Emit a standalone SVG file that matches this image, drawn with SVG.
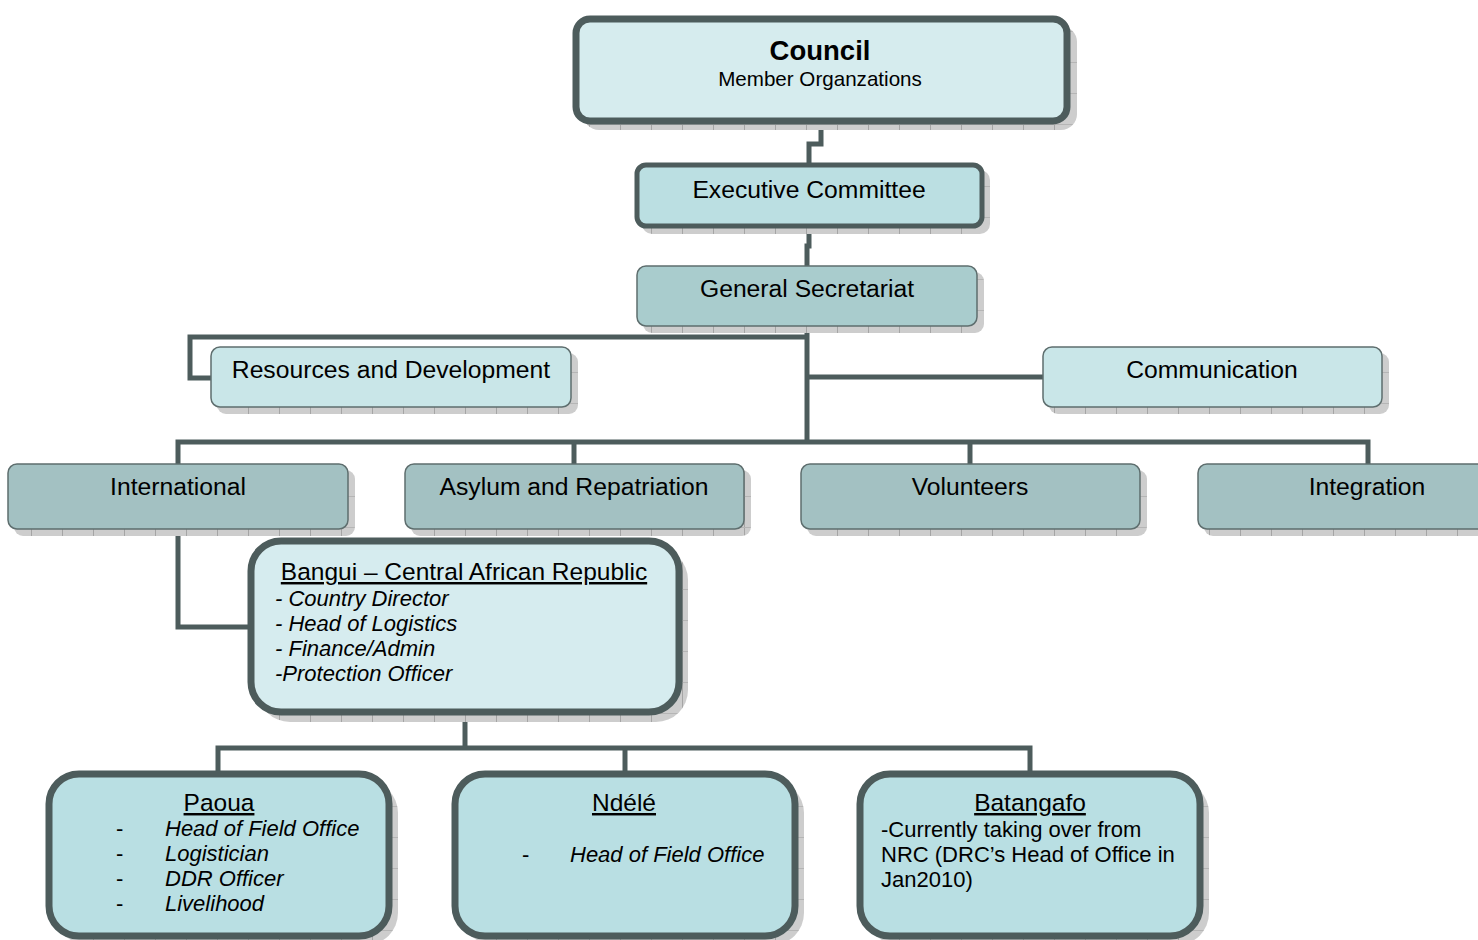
<svg xmlns="http://www.w3.org/2000/svg" width="1478" height="940" viewBox="0 0 1478 940">
<style>
text{font-family:"Liberation Sans",Arial,sans-serif;fill:#000}
.t{font-size:24.7px;text-anchor:middle}
.i{font-size:22px;font-style:italic}
.r{font-size:22px}
.u{font-size:24.5px;text-decoration:underline;text-anchor:middle}
.c{fill:none;stroke:#4d5c5c;stroke-width:5}
.sh{fill:url(#shade)}
.thick{stroke:#4d5c5c;stroke-width:7}
.thin{stroke:#5e6e6e;stroke-width:1.5}
</style>
<defs>
<pattern id="shade" width="31" height="31" patternUnits="userSpaceOnUse">
<rect width="31" height="31" fill="#cdcdcd"/>
<line x1="0.5" y1="0" x2="0.5" y2="31" stroke="#a5a5a5" stroke-width="1"/>
<line x1="0" y1="0.5" x2="31" y2="0.5" stroke="#b5b5b5" stroke-width="1"/>
</pattern>
</defs>
<g id="connectors">
<path class="c" d="M821 122 V144 H809 V165"/>
<path class="c" d="M809 227 V246 H807 V266"/>
<path class="c" d="M807 326 V442"/>
<path class="c" d="M807 337 H190 V378 H212"/>
<path class="c" d="M807 377 H1043"/>
<path class="c" d="M178 464 V442 H1368 V464"/>
<path class="c" d="M574 442 V464"/>
<path class="c" d="M970 442 V464"/>
<path class="c" d="M178 529 V627 H252"/>
<path class="c" d="M465 713 V748"/>
<path class="c" d="M218 773 V748 H1030 V773"/>
<path class="c" d="M625 748 V773"/>
</g>
<g id="council">
<rect class="sh" x="583" y="26" width="494" height="104" rx="16"/>
<rect class="thick" x="576" y="19" width="491" height="102" rx="14" fill="#d6ecee"/>
<text x="820" y="60" text-anchor="middle" font-size="27.5" font-weight="bold">Council</text>
<text x="820" y="86" text-anchor="middle" font-size="20.6">Member Organzations</text>
</g>
<g id="executive">
<rect class="sh" x="642" y="170" width="348" height="64" rx="10"/>
<rect x="637" y="165" width="345" height="61" rx="9" fill="#bbdfe2" stroke="#4d5c5c" stroke-width="5"/>
<text class="t" x="809" y="198">Executive Committee</text>
</g>
<g id="secretariat">
<rect class="sh" x="643" y="272" width="341" height="61" rx="9"/>
<rect class="thin" x="637" y="266" width="340" height="60" rx="9" fill="#a9cccd"/>
<text class="t" x="807" y="297">General Secretariat</text>
</g>
<g id="resources">
<rect class="sh" x="217" y="353" width="361" height="61" rx="9"/>
<rect class="thin" x="211" y="347" width="360" height="60" rx="9" fill="#c9e6e8"/>
<text class="t" x="391" y="378">Resources and Development</text>
</g>
<g id="communication">
<rect class="sh" x="1049" y="353" width="340" height="61" rx="9"/>
<rect class="thin" x="1043" y="347" width="339" height="60" rx="9" fill="#c9e6e8"/>
<text class="t" x="1212" y="378">Communication</text>
</g>
<g id="international">
<rect class="sh" x="14" y="470" width="341" height="66" rx="9"/>
<rect class="thin" x="8" y="464" width="340" height="65" rx="9" fill="#a3c1c2"/>
<text class="t" x="178" y="495">International</text>
</g>
<g id="asylum">
<rect class="sh" x="411" y="470" width="340" height="66" rx="9"/>
<rect class="thin" x="405" y="464" width="339" height="65" rx="9" fill="#a3c1c2"/>
<text class="t" x="574" y="495">Asylum and Repatriation</text>
</g>
<g id="volunteers">
<rect class="sh" x="807" y="470" width="340" height="66" rx="9"/>
<rect class="thin" x="801" y="464" width="339" height="65" rx="9" fill="#a3c1c2"/>
<text class="t" x="970" y="495">Volunteers</text>
</g>
<g id="integration">
<rect class="sh" x="1204" y="470" width="340" height="66" rx="9"/>
<rect class="thin" x="1198" y="464" width="339" height="65" rx="9" fill="#a3c1c2"/>
<text class="t" x="1367" y="495">Integration</text>
</g>
<g id="bangui">
<rect class="sh" x="258" y="548" width="430" height="174" rx="32"/>
<rect class="thick" x="251" y="541" width="428" height="171" rx="30" fill="#d6ecef"/>
<text class="u" x="464" y="580">Bangui – Central African Republic</text>
<text class="i" x="275" y="606">- Country Director</text>
<text class="i" x="275" y="631">- Head of Logistics</text>
<text class="i" x="275" y="656">- Finance/Admin</text>
<text class="i" x="275" y="681">-Protection Officer</text>
</g>
<g id="paoua">
<rect class="sh" x="56" y="781" width="342" height="164" rx="32"/>
<rect class="thick" x="49" y="774" width="340" height="162" rx="30" fill="#b9dfe3"/>
<text class="u" x="219" y="811">Paoua</text>
<text class="r" x="116" y="836">-</text>
<text class="i" x="165" y="836">Head of Field Office</text>
<text class="r" x="116" y="861">-</text>
<text class="i" x="165" y="861">Logistician</text>
<text class="r" x="116" y="886">-</text>
<text class="i" x="165" y="886">DDR Officer</text>
<text class="r" x="116" y="911">-</text>
<text class="i" x="165" y="911">Livelihood</text>
</g>
<g id="ndele">
<rect class="sh" x="462" y="781" width="342" height="164" rx="32"/>
<rect class="thick" x="455" y="774" width="340" height="162" rx="30" fill="#b9dfe3"/>
<text class="u" x="624" y="811">Ndélé</text>
<text class="r" x="522" y="862">-</text>
<text class="i" x="570" y="862">Head of Field Office</text>
</g>
<g id="batangafo">
<rect class="sh" x="867" y="781" width="342" height="164" rx="32"/>
<rect class="thick" x="860" y="774" width="340" height="162" rx="30" fill="#b9dfe3"/>
<text class="u" x="1030" y="811">Batangafo</text>
<text class="r" x="881" y="837">-Currently taking over from</text>
<text class="r" x="881" y="862">NRC (DRC’s Head of Office in</text>
<text class="r" x="881" y="887">Jan2010)</text>
</g>
</svg>
